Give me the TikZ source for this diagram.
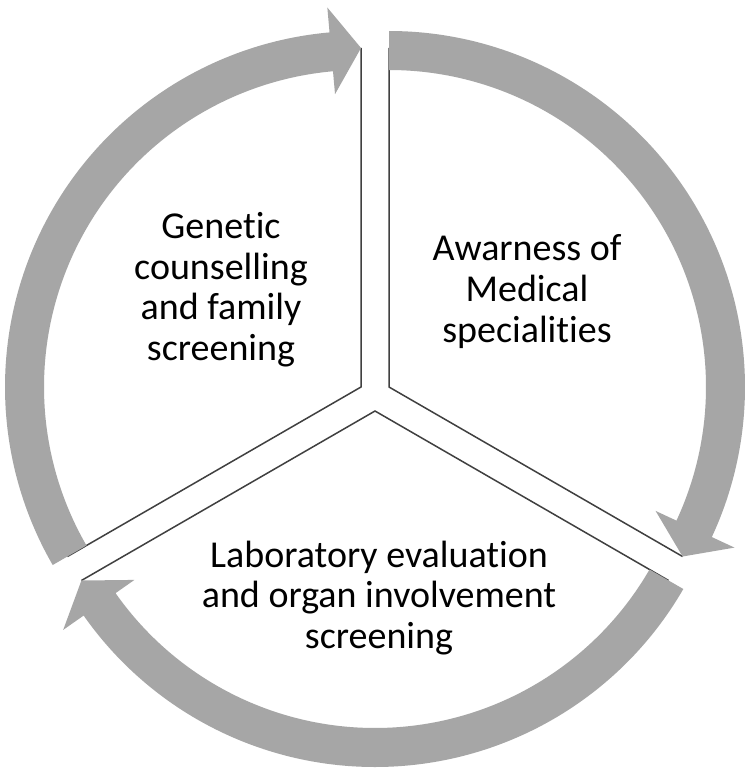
\documentclass[tikz,border=0pt]{standalone}
\usepackage{fontspec}
\setmainfont{Carlito}[Ligatures={NoCommon}]
\definecolor{bandgray}{RGB}{166,166,166}
\definecolor{linegray}{RGB}{64,64,64}
\begin{document}
\begin{tikzpicture}[x=1pt,y=1pt,
  band/.style={fill=bandgray, draw=none},
  sepline/.style={draw=linegray, line width=1.5pt, line join=miter},
  lbl/.style={font=\fontsize{38}{40.7}\selectfont, align=center, anchor=base, inner sep=0pt, text=black}]
\fill[white] (0,0) rectangle (750,-773);
\useasboundingbox (0,0) rectangle (750,-773);
\coordinate (V1) at (361,-387);
\coordinate (V2) at (389,-387);
\coordinate (V3) at (375,-411);
% sector outlines
\coordinate (T1) at ([shift={(90:339)}]V1);
\coordinate (B1) at ([shift={(210:339)}]V1);
\coordinate (T2) at ([shift={(90:339)}]V2);
\coordinate (B2) at ([shift={(-30:339)}]V2);
\coordinate (R3) at ([shift={(-30:339)}]V3);
\coordinate (L3) at ([shift={(210:339)}]V3);
\draw[sepline] (T1) -- (V1) -- (B1);
\draw[sepline] (T2) -- (V2) -- (B2);
\draw[sepline] (R3) -- (V3) -- (L3);
% block arc arrows
\fill[band] ([shift={(210:356)}]V1) arc[start angle=210, end angle=95.07, radius=356]
  -- ([shift={(95.07:381)}]V1) -- (T1) -- ([shift={(95.07:294)}]V1)
  -- ([shift={(95.07:317)}]V1) arc[start angle=95.07, end angle=210, radius=317] -- cycle;
\fill[band] ([shift={(90:356)}]V2) arc[start angle=90, end angle=-24.93, radius=356]
  -- ([shift={(-24.93:381)}]V2) -- (B2) -- ([shift={(-24.93:294)}]V2)
  -- ([shift={(-24.93:317)}]V2) arc[start angle=-24.93, end angle=90, radius=317] -- cycle;
\fill[band] ([shift={(330:356)}]V3) arc[start angle=330, end angle=215.07, radius=356]
  -- ([shift={(215.07:381)}]V3) -- (L3) -- ([shift={(215.07:294)}]V3)
  -- ([shift={(215.07:317)}]V3) arc[start angle=215.07, end angle=330, radius=317] -- cycle;
% labels (anchor = baseline of the last line)
\node[lbl] (gen) at (221,-360.5) {Genetic\\counselling\\and family\\screening};
\node[lbl] (awa) at (527,-342) {Awarness of\\Medical\\specialities};
\node[lbl] (lab) at (379,-648.5) {Laboratory evaluation\\and organ involvement\\screening};
\end{tikzpicture}
\end{document}
